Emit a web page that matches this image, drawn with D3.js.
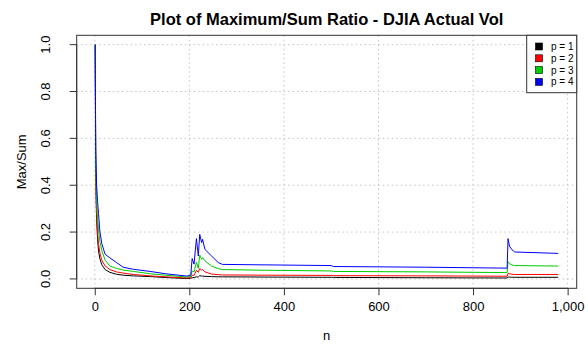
<!DOCTYPE html>
<html>
<head>
<meta charset="utf-8">
<script src="https://cdn.jsdelivr.net/npm/d3@7"></script>
<style>
  body { margin: 0; background: #fff; }
  svg { font-family: "Liberation Sans", Arial, sans-serif; }
  .grid line { stroke: #c4c4c4; stroke-dasharray: 1.5,3; }
  .axis path, .axis line { stroke: #333; }
  .axis text { font-size: 13px; fill: #000; }
</style>
</head>
<body>
<svg width="588" height="356"></svg>
<script>
// sample sizes
const nValues = [1, 2, 3, 4, 6, 8, 11, 15, 22, 32, 46, 60, 82, 117, 150, 195,
  203, 206, 210, 215, 219, 222, 226, 228, 233, 247, 261, 270, 360, 500, 505,
  700, 872, 874, 877, 882, 888, 980];

const p1 = [1.0, 0.48, 0.33, 0.25, 0.17, 0.12, 0.085, 0.06, 0.04, 0.028, 0.02,
  0.016, 0.013, 0.01, 0.006, 0.0015, 0.003, 0.005, 0.006, 0.009, 0.008, 0.014,
  0.012, 0.012, 0.011, 0.010, 0.009, 0.009, 0.008, 0.007, 0.0065, 0.005, 0.004,
  0.008, 0.008, 0.007, 0.007, 0.007];
const p2 = [1.0, 0.49, 0.36, 0.28, 0.20, 0.15, 0.11, 0.08, 0.055, 0.04, 0.03,
  0.025, 0.019, 0.013, 0.009, 0.004, 0.006, 0.016, 0.015, 0.037, 0.028, 0.044,
  0.038, 0.04, 0.03, 0.021, 0.018, 0.017, 0.016, 0.015, 0.014, 0.013, 0.0115,
  0.024, 0.022, 0.02, 0.019, 0.019];
const p3 = [1.0, 0.50, 0.40, 0.33, 0.26, 0.21, 0.16, 0.12, 0.08, 0.055, 0.045,
  0.038, 0.032, 0.022, 0.016, 0.008, 0.011, 0.034, 0.03, 0.072, 0.045, 0.102,
  0.084, 0.091, 0.077, 0.055, 0.044, 0.040, 0.037, 0.034, 0.032, 0.030, 0.027,
  0.074, 0.065, 0.060, 0.057, 0.055];
const p4 = [1.0, 0.56, 0.47, 0.40, 0.33, 0.28, 0.20, 0.15, 0.105, 0.09, 0.07,
  0.05, 0.041, 0.032, 0.022, 0.012, 0.016, 0.087, 0.063, 0.172, 0.098, 0.19,
  0.155, 0.169, 0.126, 0.098, 0.07, 0.062, 0.06, 0.057, 0.053, 0.050, 0.046,
  0.172, 0.14, 0.125, 0.115, 0.109];

const seriesNames = ['p = 1', 'p = 2', 'p = 3', 'p = 4'];
const seriesColors = ['#000000', '#ff0000', '#00cd00', '#0000ff'];
const xTicks = [0, 200, 400, 600, 800, 1000];
const yTicks = [0, 0.2, 0.4, 0.6, 0.8, 1.0];

const series = [p1, p2, p3, p4].map((vals, i) => ({
  name: seriesNames[i],
  color: seriesColors[i],
  points: vals.map((v, j) => ({n: nValues[j], v}))
}));

const box = {left: 76.7, right: 576.7, top: 35.3, bottom: 288.3};

// R style 4% padding on the data range
const pad = (ext) => {
  const d = (ext[1] - ext[0]) * 0.04;
  return [ext[0] - d, ext[1] + d];
};

const x = d3.scaleLinear()
  .domain(pad(d3.extent(nValues)))
  .range([box.left, box.right]);
const y = d3.scaleLinear()
  .domain(pad([0, 1]))
  .range([box.bottom, box.top]);

const svg = d3.select('svg');

// grid
const grid = svg.append('g').attr('class', 'grid');
grid.selectAll('.gx')
  .data(xTicks)
  .enter()
  .append('line')
  .attr('x1', d => x(d)).attr('x2', d => x(d))
  .attr('y1', box.top).attr('y2', box.bottom);
grid.selectAll('.gy')
  .data(yTicks)
  .enter()
  .append('line')
  .attr('x1', box.left).attr('x2', box.right)
  .attr('y1', d => y(d)).attr('y2', d => y(d));

// lines
const line = d3.line()
  .x(d => x(d.n))
  .y(d => y(d.v));

svg.append('g')
  .selectAll('path')
  .data(series)
  .enter()
  .append('path')
  .attr('fill', 'none')
  .attr('stroke', d => d.color)
  .attr('stroke-width', 1)
  .attr('stroke-linejoin', 'round')
  .attr('d', d => line(d.points));

// axes, R puts the line only between the end ticks
const xAxis = svg.append('g')
  .attr('class', 'axis')
  .attr('transform', `translate(0,${box.bottom})`)
  .call(d3.axisBottom(x).tickValues(xTicks).tickSize(7).tickSizeOuter(0).tickPadding(6));
xAxis.select('.domain').attr('d', `M${x(0)},0H${x(1000)}`);

const labX = -31;
const yAxis = svg.append('g')
  .attr('class', 'axis')
  .attr('transform', `translate(${box.left},0)`)
  .call(d3.axisLeft(y).tickValues(yTicks).tickSize(7).tickFormat(d3.format('.1f')));
yAxis.select('.domain').attr('d', `M0,${y(0)}V${y(1)}`);
yAxis.selectAll('text')
  .attr('transform', d => `rotate(-90,${labX},${y(d)})`)
  .attr('x', labX)
  .attr('y', d => y(d))
  .attr('dy', '0.35em')
  .attr('text-anchor', 'middle');
yAxis.selectAll('.tick').attr('transform', null);
yAxis.selectAll('.tick line')
  .attr('y1', d => y(d)).attr('y2', d => y(d));

// plot box
svg.append('rect')
  .attr('x', box.left).attr('y', box.top)
  .attr('width', box.right - box.left)
  .attr('height', box.bottom - box.top)
  .attr('fill', 'none')
  .attr('stroke', '#333');

// titles
svg.append('text')
  .attr('x', (box.left + box.right) / 2)
  .attr('y', 25)
  .attr('text-anchor', 'middle')
  .attr('font-weight', 'bold')
  .attr('font-size', 16.5)
  .text('Plot of Maximum/Sum Ratio - DJIA Actual Vol');

svg.append('text')
  .attr('x', (box.left + box.right) / 2)
  .attr('y', 340)
  .attr('text-anchor', 'middle')
  .attr('font-size', 13)
  .text('n');

svg.append('text')
  .attr('transform', `translate(26,${(box.top + box.bottom) / 2}) rotate(-90)`)
  .attr('text-anchor', 'middle')
  .attr('font-size', 13)
  .text('Max/Sum');

// legend
const legend = svg.append('g').attr('class', 'legend');
legend.append('rect')
  .attr('x', 526.7).attr('y', box.top)
  .attr('width', box.right - 526.7).attr('height', 57.4)
  .attr('fill', '#fff')
  .attr('stroke', '#333');
const items = legend.selectAll('g.item')
  .data(series)
  .enter()
  .append('g')
  .attr('transform', (d, i) => `translate(0,${46.5 + i * 11.8})`);
items.append('rect')
  .attr('x', 535.5).attr('y', -3.5)
  .attr('width', 7).attr('height', 7)
  .attr('fill', d => d.color)
  .attr('stroke', '#000')
  .attr('stroke-width', 0.6);
items.append('text')
  .attr('x', 551)
  .attr('dy', '0.35em')
  .attr('font-size', 10)
  .text(d => d.name);
</script>
</body>
</html>
